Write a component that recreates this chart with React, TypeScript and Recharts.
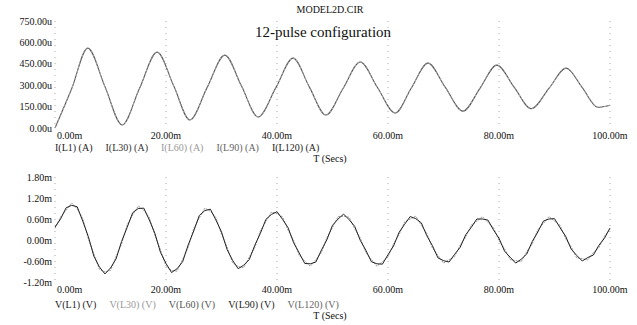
import React from 'react'
import { LineChart, Line, XAxis, YAxis, CartesianGrid } from 'recharts'

// time axis (ms)
const X_TICKS = [0, 20, 40, 60, 80, 100]

const I_TIME = [0, 3, 5.9, 9, 12.1, 15.2, 18.4, 21.4, 24.3, 27.4, 30.6, 33.6, 36.6, 39.8, 42.9, 45.8, 48.8, 51.9, 55, 58.1, 61.3, 64.2, 67.2, 70.3, 73.5, 76.6, 79.6, 82.7, 85.8, 89, 92.1, 95, 97.8, 100]
const I_L1 = [0, 275, 560, 290, 21, 275, 532, 294, 56, 283, 511, 294, 77, 283, 490, 290, 91, 277, 463, 284, 105, 280, 455, 286, 118, 280, 441, 288, 135, 277, 420, 283, 145, 160]
const I_NAMES = ['I(L1) (A)', 'I(L30) (A)', 'I(L60) (A)', 'I(L90) (A)', 'I(L120) (A)']
const I_TICKS = [0, 150, 300, 450, 600, 750]

// bottom plot: inductor voltages (mV), 1 ms steps
const V_L1 = [
  0.37, 0.60, 0.92, 0.99, 0.95, 0.54, 0.10, -0.46, -0.77, -0.97,
  -0.80, -0.54, -0.04, 0.36, 0.78, 0.90, 0.91, 0.57, 0.19, -0.35,
  -0.67, -0.93, -0.82, -0.62, -0.14, 0.26, 0.70, 0.84, 0.88, 0.57,
  0.23, -0.27, -0.58, -0.82, -0.72, -0.56, -0.15, 0.19, 0.59, 0.73,
  0.81, 0.59, 0.35, -0.08, -0.37, -0.67, -0.68, -0.63, -0.29, 0.01,
  0.42, 0.60, 0.74, 0.58, 0.39, -0.01, -0.29, -0.62, -0.68, -0.69,
  -0.42, -0.17, 0.22, 0.45, 0.67, 0.61, 0.49, 0.12, -0.16, -0.51,
  -0.59, -0.63, -0.41, -0.21, 0.15, 0.36, 0.60, 0.60, 0.57, 0.29,
  0.05, -0.32, -0.49, -0.66, -0.55, -0.40, -0.04, 0.23, 0.54, 0.60,
  0.61, 0.35, 0.11, -0.26, -0.44, -0.60, -0.50, -0.43, -0.15, 0.05, 0.34,
]
const V_L30 = [
  0.33, 0.66, 0.85, 1.06, 0.89, 0.61, 0.04, -0.40, -0.84, -0.91,
  -0.87, -0.48, -0.11, 0.43, 0.72, 0.97, 0.85, 0.64, 0.13, -0.28,
  -0.74, -0.87, -0.89, -0.55, -0.21, 0.33, 0.63, 0.91, 0.82, 0.64,
  0.16, -0.20, -0.65, -0.76, -0.79, -0.49, -0.22, 0.26, 0.52, 0.80,
  0.75, 0.66, 0.28, -0.01, -0.44, -0.60, -0.75, -0.56, -0.36, 0.08,
  0.35, 0.67, 0.68, 0.65, 0.32, 0.06, -0.36, -0.55, -0.75, -0.62,
  -0.49, -0.10, 0.15, 0.52, 0.60, 0.68, 0.42, 0.19, -0.23, -0.44,
  -0.66, -0.56, -0.48, -0.14, 0.08, 0.43, 0.53, 0.67, 0.50, 0.36,
  -0.02, -0.25, -0.56, -0.59, -0.62, -0.33, -0.11, 0.30, 0.47, 0.67,
  0.54, 0.42, 0.04, -0.19, -0.51, -0.53, -0.57, -0.36, -0.22, 0.11, 0.31,
]
const V_NAMES = ['V(L1) (V)', 'V(L30) (V)', 'V(L60) (V)', 'V(L90) (V)', 'V(L120) (V)']
const V_TICKS = [-1.2, -0.6, 0, 0.6, 1.2, 1.8]

const I_LEGEND_COLORS = ['#222', '#333', '#999', '#666', '#222']
const V_LEGEND_COLORS = ['#222', '#999', '#555', '#222', '#666']

const iData = I_TIME.map((t, i) => ({ t, i1: I_L1[i] }))
const vData = V_L1.map((v, i) => ({ t: i, v1: v, v30: V_L30[i] }))

const FONT = '"Liberation Serif", "Times New Roman", serif'

function XTick(props: any) {
  const { x, y, payload, index } = props
  return (
    <text x={index === 0 ? x + 2 : x} y={y + 9} textAnchor={index === 0 ? 'start' : 'middle'}
      fontSize={10} fontFamily={FONT} fill="#111">
      {payload.value.toFixed(2)}m
    </text>
  )
}

function makeYTick(unit: string) {
  return function YTick(props: any) {
    const { x, y, payload } = props
    return (
      <text x={x} y={y + 3.5} textAnchor="end" fontSize={10} fontFamily={FONT} fill="#111">
        {payload.value.toFixed(2)}{unit}
      </text>
    )
  }
}

function LegendRow({ names, colors, top }: { names: string[]; colors: string[]; top: number }) {
  return (
    <div style={{ position: 'absolute', left: 55, top, fontSize: 10, lineHeight: '10px', fontFamily: FONT, whiteSpace: 'nowrap' }}>
      {names.map((n, i) => (
        <span key={n} style={{ color: colors[i], marginRight: 13 }}>{n}</span>
      ))}
    </div>
  )
}

function AxisTitle({ top }: { top: number }) {
  return (
    <div style={{ position: 'absolute', left: 290, width: 80, top, lineHeight: '10px', textAlign: 'center', fontSize: 10, fontFamily: FONT, color: '#111' }}>
      T (Secs)
    </div>
  )
}

export default function App() {
  return (
    <div style={{ position: 'absolute', left: 0, top: 0, width: 637, height: 325, background: '#fff', fontFamily: FONT }}>
      <div style={{ position: 'absolute', left: 0, top: 0 }}>
        <LineChart width={637} height={160} data={iData} margin={{ top: 21, right: 27, left: 0, bottom: 20 }}>
          <CartesianGrid horizontal={false} strokeDasharray="1 5" stroke="#aaa" />
          <XAxis dataKey="t" type="number" domain={[0, 100]} ticks={X_TICKS} height={12} interval={0}
            axisLine={false} tickLine={false} tickSize={0} tick={<XTick />} />
          <YAxis type="number" domain={[0, 750]} ticks={I_TICKS} width={55} interval={0}
            axisLine={false} tickLine={false} tickSize={0} tickMargin={3} tick={makeYTick('u')} />
          <Line type="monotone" dataKey="i1" stroke="#555" strokeWidth={1.1} dot={false} isAnimationActive={false} />
          <Line type="monotone" dataKey="i1" stroke="#aaa" strokeWidth={1} strokeDasharray="2 2" dot={false} isAnimationActive={false} />
        </LineChart>
      </div>
      <div style={{ position: 'absolute', left: 270, width: 120, top: 4, textAlign: 'center', fontSize: 10, color: '#111' }}>
        MODEL2D.CIR
      </div>
      <div style={{ position: 'absolute', left: 223, width: 200, top: 24, textAlign: 'center', fontSize: 15, color: '#111' }}>
        12-pulse configuration
      </div>
      <LegendRow names={I_NAMES} colors={I_LEGEND_COLORS} top={143} />
      <AxisTitle top={154} />

      <div style={{ position: 'absolute', left: 0, top: 165 }}>
        <LineChart width={637} height={160} data={vData} margin={{ top: 12, right: 27, left: 0, bottom: 31 }}>
          <CartesianGrid horizontal={false} strokeDasharray="1 5" stroke="#aaa" />
          <XAxis dataKey="t" type="number" domain={[0, 100]} ticks={X_TICKS} height={12} interval={0}
            axisLine={false} tickLine={false} tickSize={0} tick={<XTick />} />
          <YAxis type="number" domain={[-1.2, 1.8]} ticks={V_TICKS} width={55} interval={0}
            axisLine={false} tickLine={false} tickSize={0} tickMargin={3} tick={makeYTick('m')} />
          <Line type="linear" dataKey="v30" stroke="#999" strokeWidth={1} strokeDasharray="2 1" dot={false} isAnimationActive={false} />
          <Line type="linear" dataKey="v1" stroke="#222" strokeWidth={1} dot={false} isAnimationActive={false} />
        </LineChart>
      </div>
      <LegendRow names={V_NAMES} colors={V_LEGEND_COLORS} top={300} />
      <AxisTitle top={311} />
    </div>
  )
}
